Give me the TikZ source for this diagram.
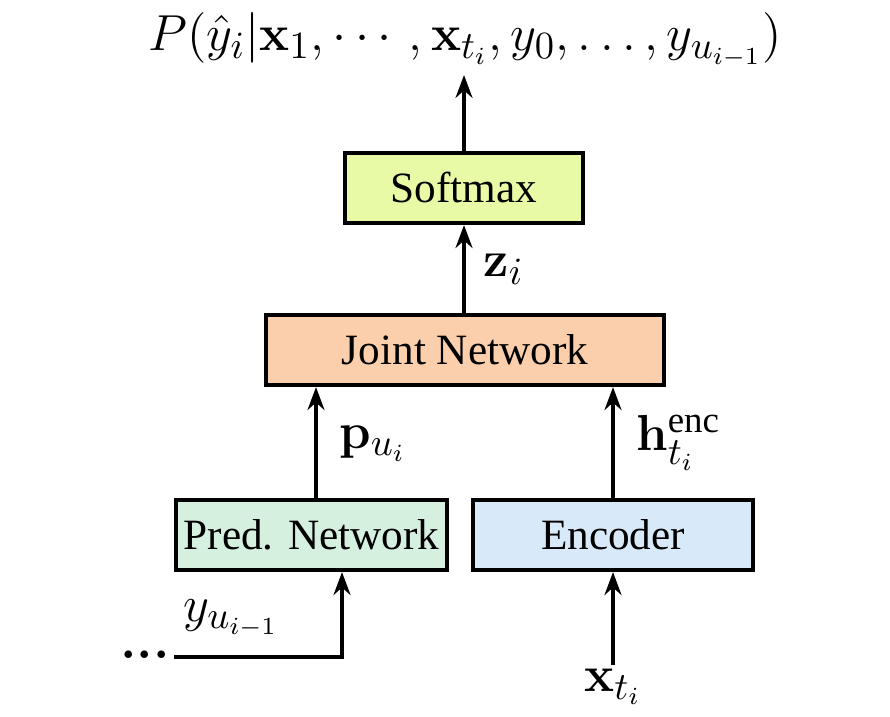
\documentclass[tikz,border=0pt]{standalone}
\usepackage{amsmath}
\usepackage[no-math]{fontspec}
\newfontfamily\boxfont{Liberation Serif}
\usetikzlibrary{arrows.meta,positioning}

\definecolor{softcol}{RGB}{232,250,165}
\definecolor{jointcol}{RGB}{251,206,172}
\definecolor{predcol}{RGB}{214,240,224}
\definecolor{enccol}{RGB}{216,233,250}

\tikzset{
	block/.style={draw, line width=1.2pt, minimum height=0.70cm, inner sep=0pt,
		font=\boxfont\fontsize{12.3}{15}\selectfont},
	flow/.style={line width=1.2pt, -{Stealth[length=6.5pt,width=4.8pt]}},
	lbl/.style={font=\fontsize{15}{18}\selectfont, inner sep=1pt}
}

\begin{document}
\begin{tikzpicture}
	\useasboundingbox (0,0) rectangle (8.90,7.17);
	\node [block, fill=softcol, minimum width=2.38cm] (softmax) at (4.64,5.29) {Softmax};
	\node [block, fill=jointcol, minimum width=3.98cm] (joint) at (4.65,3.67) {Joint Network};
	\node [block, fill=predcol, minimum width=2.71cm] (pred) at (3.115,1.82) {Pred. Network};
	\node [block, fill=enccol, minimum width=2.80cm] (enc) at (6.13,1.82) {Encoder};

	\node [lbl] (out) at (4.65,6.77) {$P(\hat{y}_i|\mathbf{x}_1,\cdots,\mathbf{x}_{t_i},y_0,\ldots,y_{u_{i-1}})$};
	\node [lbl] (xin) at (6.13,0.30) {$\mathbf{x}_{t_i}$};
	\node [lbl] (dots) at (1.45,0.62) {\textbf{...}};
	\coordinate (turn) at (3.42,0.60);
	\coordinate (predtop) at (3.16,2.17);
	\coordinate (outend) at (4.64,6.42);

	\draw [flow] (softmax.north) -- (outend);
	\draw [flow] (joint.north -| softmax.south) -- node [lbl, right=4pt] {$\mathbf{z}_i$} (softmax.south);
	\draw [flow] (predtop) -- node [lbl, right=5pt] {$\mathbf{p}_{u_i}$} (joint.south -| predtop);
	\draw [flow] (enc.north) -- node [lbl, right=5pt] {$\mathbf{h}_{t_i}^{\text{\boxfont enc}}$} (joint.south -| enc.north);
	\draw [flow] (xin.north) -- (enc.south);
	\draw [flow] (dots.east |- turn) -- node [lbl, above=4pt, pos=0.34] {$y_{u_{i-1}}$} (turn) -- (turn |- pred.south);
\end{tikzpicture}
\end{document}
